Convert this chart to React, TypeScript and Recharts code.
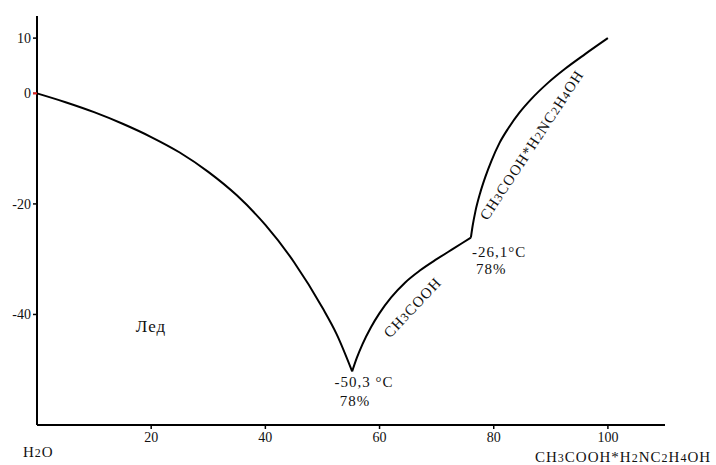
import { LineChart, Line, XAxis, YAxis } from 'recharts';

// composition, % (x) vs. temperature, °C (y)
const iceX = [0, 5, 10, 15, 20, 25, 30, 35, 40, 45, 50, 52.5, 55.2];
const iceT = [0, -1.6, -3.4, -5.5, -7.9, -10.7, -14.2, -18.45, -23.8, -30.5, -38.8, -43.6, -50.3];

const acidX = [55.2, 56, 57, 58.5, 60, 62, 64.5, 67, 70, 73, 76];
const acidT = [-50.3, -47.9, -45.4, -42.3, -39.75, -36.95, -34.2, -32.1, -30.0, -28.05, -26.1];

const saltX = [76, 76.3, 76.8, 77.6, 78.5, 79.6, 81, 82.5, 84.5, 86.6, 89.5, 92.5, 96, 100];
const saltT = [-26.1, -24.0, -21.3, -18.1, -15.2, -12.2, -9.0, -6.4, -3.5, -1.0, 1.9, 4.45, 7.1, 10.0];

const xTicks = [20, 40, 60, 80, 100];
const yTicks = [10, 0, -20, -40];

const toRows = (xs: number[], ys: number[]) => xs.map((x, i) => ({ x, t: ys[i] }));
const ice = toRows(iceX, iceT);
const acid = toRows(acidX, acidT);
const salt = toRows(saltX, saltT);

const FONT = '"Liberation Serif", "DejaVu Serif", serif';
const INK = '#111';

// formula with smaller digits, e.g. CH3COOH
function Formula({ s, size }: { s: string; size: number }) {
  const parts = s.match(/\d+|\D+/g) || [];
  return (
    <>
      {parts.map((p, i) =>
        /\d/.test(p) ? (
          <tspan key={i} fontSize={size * 0.8}>{p}</tspan>
        ) : (
          <tspan key={i}>{p}</tspan>
        )
      )}
    </>
  );
}

function YTick(props: any) {
  const { x, y, payload } = props;
  return (
    <g>
      <text x={x} y={y} dy={5} textAnchor="end" fontFamily={FONT} fontSize={14} fill={INK}>
        {payload.value}
      </text>
      {payload.value === 0 && (
        <line x1={x + 2} x2={x + 6} y1={y} y2={y} stroke="#e02020" strokeWidth={2} />
      )}
    </g>
  );
}

export default function App() {
  const tickTxt = { fontFamily: FONT, fontSize: 14, fill: INK };
  const txt = { fontFamily: FONT, fontSize: 15, fill: INK, letterSpacing: 1 };
  const line = { type: 'monotone' as const, stroke: '#000', strokeWidth: 2, dot: false, isAnimationActive: false };
  return (
    <div style={{ position: 'absolute', left: 0, top: 0, background: '#fff' }}>
      <LineChart width={716} height={465} margin={{ top: 16, right: 51, bottom: 10, left: 0 }}>
        <XAxis
          type="number"
          dataKey="x"
          domain={[0, 110]}
          ticks={xTicks}
          height={30}
          tickSize={4}
          tickMargin={3}
          axisLine={{ stroke: '#000', strokeWidth: 2 }}
          tickLine={{ stroke: '#000', strokeWidth: 1.5 }}
          tick={tickTxt}
          allowDuplicatedCategory={false}
        />
        <YAxis
          type="number"
          dataKey="t"
          domain={[-60, 14]}
          ticks={yTicks}
          width={37}
          tickSize={4}
          tickMargin={2}
          axisLine={{ stroke: '#000', strokeWidth: 2 }}
          tickLine={{ stroke: '#000', strokeWidth: 1.5 }}
          tick={<YTick />}
        />
        <Line data={ice} dataKey="t" {...line} />
        <Line data={acid} dataKey="t" {...line} />
        <Line data={salt} dataKey="t" {...line} />

        <text x={151} y={332} textAnchor="middle" {...txt} fontSize={17}>Лед</text>

        <text x={364} y={387} textAnchor="middle" {...txt}>-50,3 °C</text>
        <text x={355} y={406} textAnchor="middle" {...txt}>78%</text>

        <text x={472} y={257} {...txt}>-26,1°C</text>
        <text x={476} y={274} {...txt}>78%</text>

        <text x={412.5} y={312.5} textAnchor="middle" transform="rotate(-46.7 412.5 307.5)" {...txt}>
          <Formula s="CH3COOH" size={15} />
        </text>
        <text x={531.7} y={150} textAnchor="middle" transform="rotate(-56.6 531.7 145)" {...txt}>
          <Formula s="CH3COOH*H2NC2H4OH" size={15} />
        </text>

        <text x={23} y={457} {...txt}>
          <Formula s="H2O" size={15} />
        </text>
        <text x={535} y={462} {...txt}>
          <Formula s="CH3COOH*H2NC2H4OH" size={15} />
        </text>
      </LineChart>
    </div>
  );
}
